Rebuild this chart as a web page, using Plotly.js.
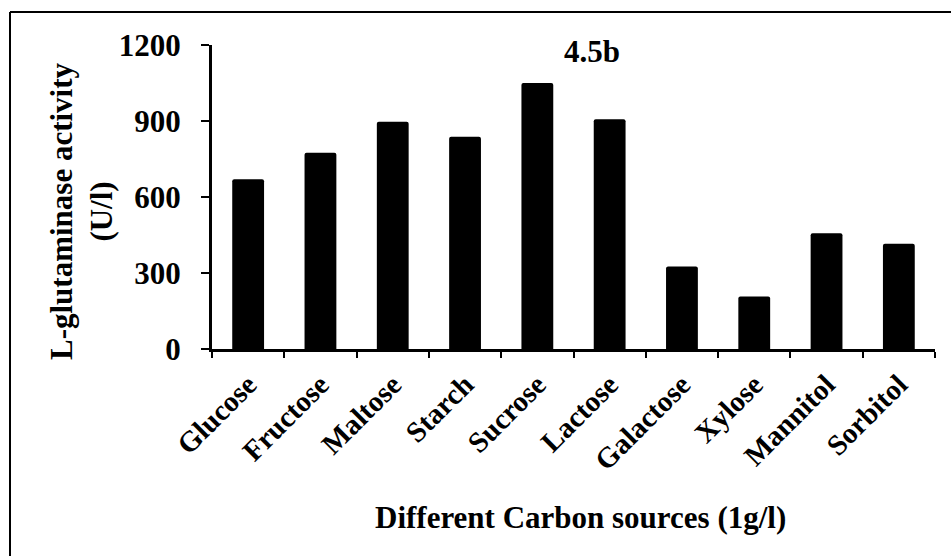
<!DOCTYPE html>
<html>
<head>
<meta charset="utf-8">
<script src="https://cdn.plot.ly/plotly-3.0.1.min.js"></script>
<style>
  html, body { margin: 0; padding: 0; background: #fff; }
  #chart { width: 951px; height: 556px; }
</style>
</head>
<body>
<div id="chart"></div>
<script>
// Carbon sources tested and the enzyme activity measured for each (U/l)
const categories = ["Glucose", "Fructose", "Maltose", "Starch", "Sucrose",
                    "Lactose", "Galactose", "Xylose", "Mannitol", "Sorbitol"];
const activity = [670, 775, 897, 838, 1050, 907, 326, 207, 457, 415];
const yTicks = [0, 300, 600, 900, 1200];

const W = 951, H = 556;
const M = { l: 212, r: 16, t: 45, b: 207 };
const plotW = W - M.l - M.r;
const plotH = H - M.t - M.b;
// convert page pixels to paper coordinates
const px = x => (x - M.l) / plotW;
const py = y => (H - M.b - y) / plotH;

const font = "Liberation Serif, Times New Roman, serif";

const trace = {
  type: "bar",
  x: categories,
  y: activity,
  marker: { color: "#000", cornerradius: 2, line: { width: 0 } },
  hoverinfo: "x+y"
};

const layout = {
  width: W, height: H,
  margin: M,
  paper_bgcolor: "#fff",
  plot_bgcolor: "#fff",
  showlegend: false,
  bargap: 0.56,
  font: { family: font, color: "#000" },
  xaxis: {
    type: "category",
    showline: true, linecolor: "#000", linewidth: 3,
    ticks: "outside", tickson: "boundaries", ticklen: 6, tickwidth: 2, tickcolor: "#000",
    tickangle: -45,
    ticklabelstandoff: 4,
    tickfont: { family: font, size: 29, color: "#000", weight: "bold" },
    showgrid: false, zeroline: false,
    fixedrange: true
  },
  yaxis: {
    range: [0, 1200],
    tickvals: yTicks,
    ticktext: yTicks.map(String),
    showline: true, linecolor: "#000", linewidth: 3,
    ticks: "outside", ticklen: 8, tickwidth: 2.5, tickcolor: "#000",
    ticklabelstandoff: 14,
    tickfont: { family: font, size: 31, color: "#000", weight: "bold" },
    showgrid: false, zeroline: false,
    fixedrange: true
  },
  annotations: [
    {
      text: "<b>L-glutaminase activity<br>(U/l)</b>",
      xref: "paper", yref: "paper",
      x: px(81), y: py(211),
      xanchor: "center", yanchor: "middle",
      textangle: -90, showarrow: false,
      font: { family: font, size: 31, color: "#000000" }
    },
    {
      text: "<b>Different Carbon sources (1g/l)</b>",
      xref: "paper", yref: "paper",
      x: px(580), y: py(517),
      xanchor: "center", yanchor: "middle",
      showarrow: false,
      font: { family: font, size: 31, color: "#000" }
    },
    {
      text: "<b>4.5b</b>",
      xref: "paper", yref: "paper",
      x: px(592), y: py(51),
      xanchor: "center", yanchor: "middle",
      showarrow: false,
      font: { family: font, size: 31, color: "#000" }
    }
  ],
  shapes: [
    // frame edges around the figure
    { type: "line", xref: "paper", yref: "paper",
      x0: px(10), x1: px(960), y0: py(12), y1: py(12),
      line: { color: "#000", width: 2 } },
    { type: "line", xref: "paper", yref: "paper",
      x0: px(10), x1: px(10), y0: py(12), y1: py(570),
      line: { color: "#000", width: 2 } }
  ]
};

Plotly.newPlot("chart", [trace], layout, { displayModeBar: false, staticPlot: true });
</script>
</body>
</html>
